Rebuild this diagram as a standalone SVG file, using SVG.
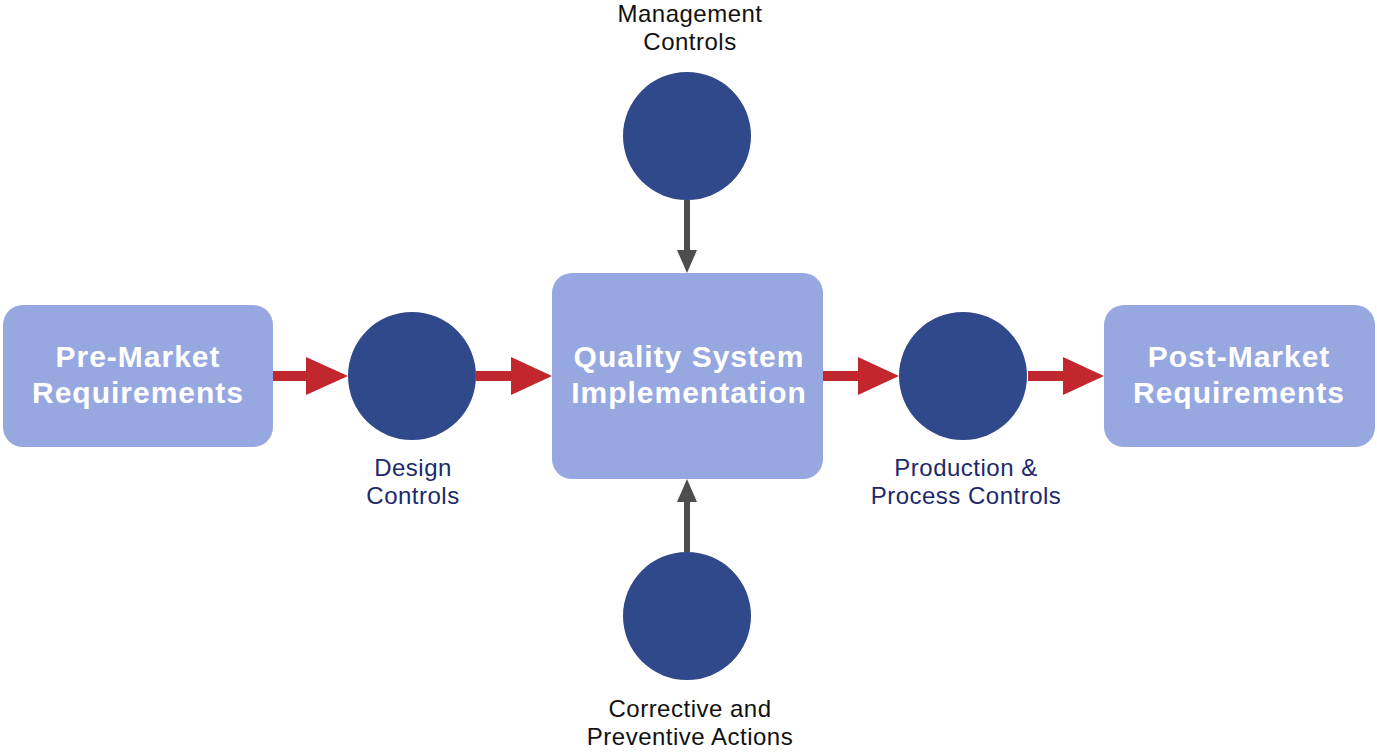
<svg xmlns="http://www.w3.org/2000/svg" width="1377" height="752" viewBox="0 0 1377 752">
<defs>
<style>
.box{fill:#97a8e1}
.circ{fill:#30498a}
.t{font-family:"Liberation Sans",Arial,sans-serif;font-weight:bold;font-size:30px;fill:#fff;text-anchor:middle;letter-spacing:1px}
.lb{font-family:"Liberation Sans",Arial,sans-serif;font-size:24px;fill:#1c2a6b;text-anchor:middle;letter-spacing:0.5px}
.lk{font-family:"Liberation Sans",Arial,sans-serif;font-size:24px;fill:#111;text-anchor:middle;letter-spacing:0.5px}
.red{fill:#c1272d}
.grey{fill:#4d4d4d}
</style>
</defs>
<rect width="1377" height="752" fill="#fff"/>
<g id="connectors">
<polygon class="red" points="273,371 306,371 306,357 348,376 306,395 306,381 273,381"/>
<polygon class="red" points="476,371 511,371 511,357 552,376 511,395 511,381 476,381"/>
<polygon class="red" points="823,371 858,371 858,357 899,376 858,395 858,381 823,381"/>
<polygon class="red" points="1028,371 1063,371 1063,357 1104,376 1063,395 1063,381 1028,381"/>
<polygon class="grey" points="684,200 690,200 690,250 697,250 687,273 677,250 684,250"/>
<polygon class="grey" points="684,552 690,552 690,502 697,502 687,479 677,502 684,502"/>
</g>
<g id="pre-market">
<rect class="box" x="3" y="305" width="270" height="142" rx="20"/>
<text class="t" x="138" y="367">Pre-Market</text>
<text class="t" x="138" y="403">Requirements</text>
</g>
<g id="quality-system">
<rect class="box" x="552" y="273" width="271" height="206" rx="20"/>
<text class="t" x="689" y="367">Quality System</text>
<text class="t" x="689" y="403">Implementation</text>
</g>
<g id="post-market">
<rect class="box" x="1104" y="305" width="271" height="142" rx="20"/>
<text class="t" x="1239" y="367">Post-Market</text>
<text class="t" x="1239" y="403">Requirements</text>
</g>
<g id="design-controls">
<circle class="circ" cx="412" cy="376" r="64"/>
<text class="lb" x="413" y="476">Design</text>
<text class="lb" x="413" y="504">Controls</text>
</g>
<g id="management-controls">
<circle class="circ" cx="687" cy="136" r="64"/>
<text class="lk" x="690" y="22">Management</text>
<text class="lk" x="690" y="50">Controls</text>
</g>
<g id="production-controls">
<circle class="circ" cx="963" cy="376" r="64"/>
<text class="lb" x="966" y="476">Production &amp;</text>
<text class="lb" x="966" y="504">Process Controls</text>
</g>
<g id="capa">
<circle class="circ" cx="687" cy="616" r="64"/>
<text class="lk" x="690" y="717">Corrective and</text>
<text class="lk" x="690" y="745">Preventive Actions</text>
</g>
</svg>
